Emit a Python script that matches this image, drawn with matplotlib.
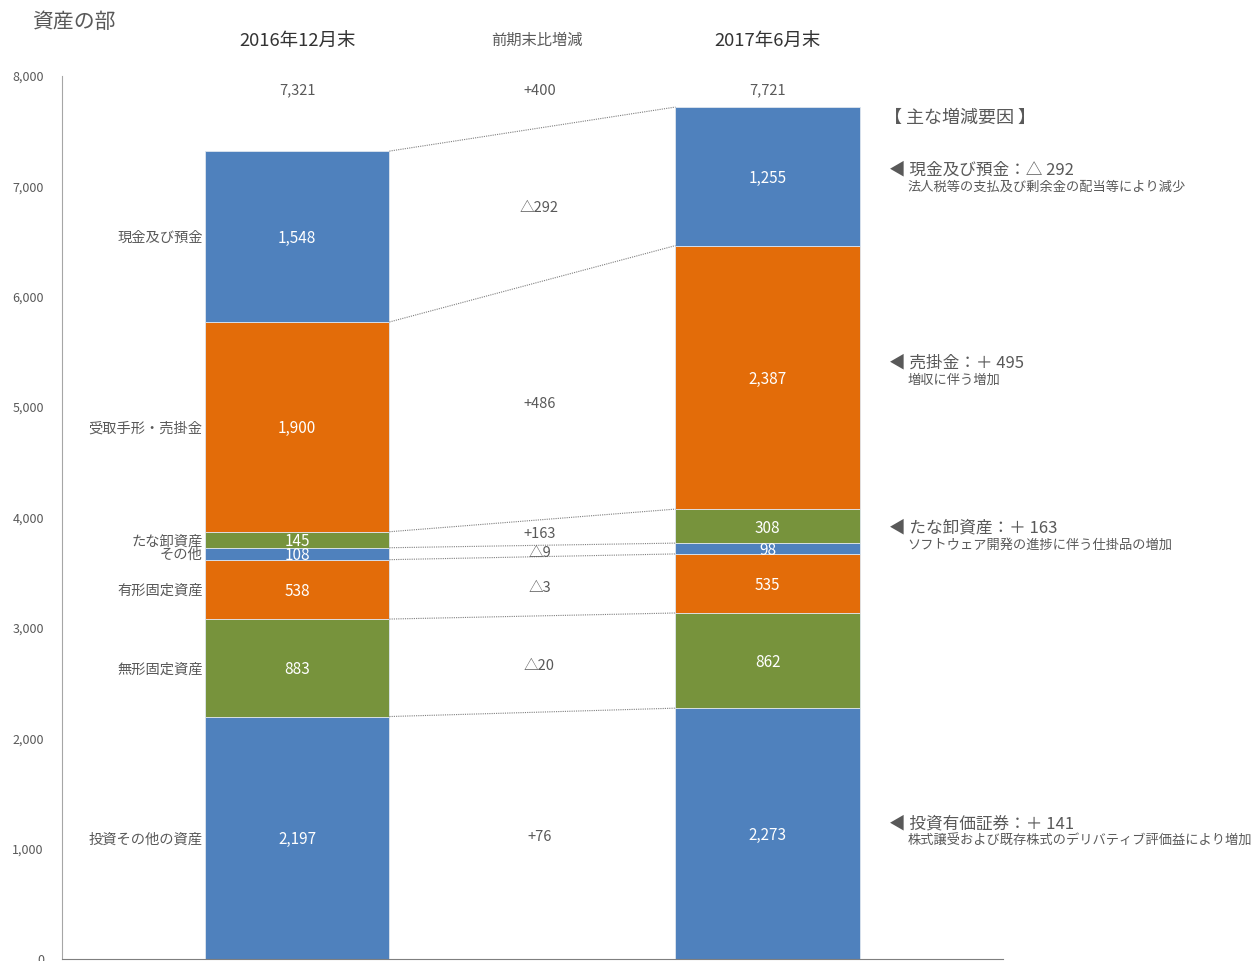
import numpy as np
import matplotlib
matplotlib.use("Agg")
import matplotlib.pyplot as plt

plt.rcParams['font.family'] = ['Noto Sans CJK JP', 'DejaVu Sans']

# データ（単位：百万円）下から順
categories = ["投資その他の資産", "無形固定資産", "有形固定資産", "その他", "たな卸資産", "受取手形・売掛金", "現金及び預金"]
values_2016 = [2197, 883, 538, 108, 145, 1900, 1548]
values_2017 = [2273, 862, 535, 98, 308, 2387, 1255]
colors = ["#4F81BD", "#77933C", "#E36C09", "#4F81BD", "#77933C", "#E36C09", "#4F81BD"]
period_labels = ["2016年12月末", "前期末比増減", "2017年6月末"]
totals = ["7,321", "+400", "7,721"]
deltas = ["+76", "△20", "△3", "△9", "+163", "+486", "△292"]

notes_head = ["現金及び預金：△ 292", "売掛金：＋ 495", "たな卸資産：＋ 163", "投資有価証券：＋ 141"]
notes_body = ["法人税等の支払及び剰余金の配当等により減少", "増収に伴う増加",
              "ソフトウェア開発の進捗に伴う仕掛品の増加", "株式譲受および既存株式のデリバティブ評価益により増加"]
notes_y = [0.823, 0.622, 0.451, 0.143]  # 図座標

text_c = "#595959"
W = 0.784

fig = plt.figure(figsize=(12.52, 9.61), dpi=100)
ax = fig.add_axes([0.0495, 0.002, 0.7515, 0.919])

b16 = np.concatenate([[0], np.cumsum(values_2016)[:-1]])
b17 = np.concatenate([[0], np.cumsum(values_2017)[:-1]])
ax.bar(0, values_2016, bottom=b16, width=W, color=colors, edgecolor="#dfe6ee", linewidth=0.6)
ax.bar(2, values_2017, bottom=b17, width=W, color=colors, edgecolor="#dfe6ee", linewidth=0.6)

# 点線の接続
top16 = np.cumsum(values_2016)
top17 = np.cumsum(values_2017)
for a, b in zip(top16, top17):
    ax.plot([W / 2, 2 - W / 2], [a, b], ls=(0, (1, 1)), color="#7f7f7f", lw=0.8)

mid16 = b16 + np.array(values_2016) / 2
mid17 = b17 + np.array(values_2017) / 2
for i in range(len(categories)):
    ax.text(0, mid16[i], f"{values_2016[i]:,}", ha="center", va="center_baseline", color="white", fontsize=11)
    ax.text(2, mid17[i], f"{values_2017[i]:,}", ha="center", va="center_baseline", color="white", fontsize=11)
    ax.text(-W / 2 - 0.01, mid16[i], categories[i], ha="right", va="center_baseline", color=text_c, fontsize=10.3)
    ax.text(1.03, (mid16[i] + mid17[i]) / 2, deltas[i], ha="center", va="center_baseline", color=text_c, fontsize=10.5)

for x, lab, tot in zip([0, 1, 2], period_labels, totals):
    big = x != 1
    ax.text(x + (0.0 if big else 0.02), 8320, lab, ha="center", va="center",
            color="#333333" if big else text_c, fontsize=13.3 if big else 11)
    ax.text(x + (0.03 if x == 1 else 0), 7880, tot, ha="center", va="center_baseline", color=text_c, fontsize=10.5)

fig.text(0.026, 0.977, "資産の部", ha="left", va="center", color=text_c, fontsize=15)

fig.text(0.706, 0.877, "【 主な増減要因 】", ha="left", va="center", color=text_c, fontsize=13)
for h, body, y in zip(notes_head, notes_body, notes_y):
    fig.text(0.710, y, "◀ " + h, ha="left", va="center", color=text_c, fontsize=12)
    fig.text(0.725, y - 0.018, body, ha="left", va="center", color=text_c, fontsize=9.5)

ax.set_xlim(-1, 3)
ax.set_ylim(0, 8000)
ax.set_yticks(np.arange(0, 8001, 1000))
ax.set_yticklabels([f"{v:,}" for v in range(0, 8001, 1000)])
ax.tick_params(axis="y", length=0, pad=13, labelsize=9, labelcolor=text_c)
ax.set_xticks([])
for s in ["top", "right"]:
    ax.spines[s].set_visible(False)
ax.spines["left"].set_color("#a6a6a6")
ax.spines["bottom"].set_color("#7f7f7f")

fig.savefig("out.png", dpi=100)
